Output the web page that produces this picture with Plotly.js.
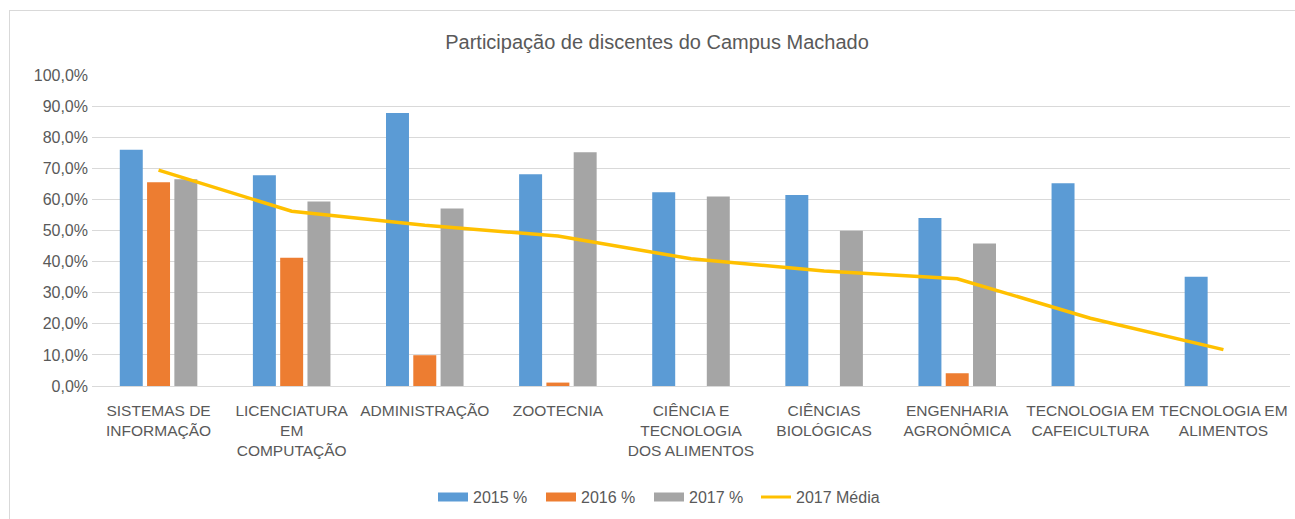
<!DOCTYPE html>
<html>
<head>
<meta charset="utf-8">
<script src="https://cdn.plot.ly/plotly-3.0.1.min.js"></script>
<style>
  html, body { margin: 0; padding: 0; background: #fff; overflow: hidden; }
  #frame { position: absolute; left: 9px; top: 10px; width: 1310px; height: 530px; border: 1px solid #d9d9d9; box-sizing: border-box; }
  #chart { position: absolute; left: 0; top: 0; width: 1295px; height: 519px; }
</style>
</head>
<body>
<div id="frame"></div>
<div id="chart"></div>
<script>
const categories = [
  "SISTEMAS DE<br>INFORMAÇÃO",
  "LICENCIATURA<br>EM<br>COMPUTAÇÃO",
  "ADMINISTRAÇÃO",
  "ZOOTECNIA",
  "CIÊNCIA E<br>TECNOLOGIA<br>DOS ALIMENTOS",
  "CIÊNCIAS<br>BIOLÓGICAS",
  "ENGENHARIA<br>AGRONÔMICA",
  "TECNOLOGIA EM<br>CAFEICULTURA",
  "TECNOLOGIA EM<br>ALIMENTOS"
];
const seriesNames = ['2015 %', '2016 %', '2017 %', '2017 Média'];
const values2015 = [76.0, 67.8, 87.8, 68.1, 62.3, 61.4, 54.0, 65.2, 35.1];
const values2016 = [65.5, 41.2, 9.9, 1.1, null, null, 4.1, null, null];
const values2017 = [66.5, 59.3, 57.1, 75.2, 60.9, 49.9, 45.8, null, null];
const media2017 = [69.4, 56.2, 51.7, 48.2, 40.9, 37.0, 34.5, 21.8, 11.7];

const colors = ['#5B9BD5', '#ED7D31', '#A5A5A5', '#FFC000'];
const FONT = '"Liberation Sans", Arial, sans-serif';
const GREY = '#595959';

const traces = [
  { type: 'bar', name: seriesNames[0], x: categories, y: values2015, marker: { color: colors[0] } },
  { type: 'bar', name: seriesNames[1], x: categories, y: values2016, marker: { color: colors[1] } },
  { type: 'bar', name: seriesNames[2], x: categories, y: values2017, marker: { color: colors[2] } },
  { type: 'scatter', mode: 'lines', name: seriesNames[3], x: categories, y: media2017,
    line: { color: colors[3], width: 3.5 } }
];

// Custom legend (wide swatches like the original), placed in pixel space
const W = 1295, H = 519, L = 92, R = 5, T = 75, B = 133;
const pw = W - L - R, ph = H - T - B;
const px = v => (v - L) / pw;
const py = v => (H - B - v) / ph;
const legendY = 497;
const legendStarts = [438, 546, 654, 761];
const shapes = [];
const annotations = [];
seriesNames.forEach((name, i) => {
  const x0 = legendStarts[i], x1 = x0 + 30;
  if (i < 3) {
    shapes.push({ type: 'rect', xref: 'paper', yref: 'paper',
      x0: px(x0), x1: px(x1), y0: py(legendY + 4.5), y1: py(legendY - 4.5),
      fillcolor: colors[i], line: { width: 0 } });
  } else {
    shapes.push({ type: 'line', xref: 'paper', yref: 'paper',
      x0: px(x0), x1: px(x1), y0: py(legendY), y1: py(legendY),
      line: { color: colors[i], width: 3 } });
  }
  annotations.push({ xref: 'paper', yref: 'paper', x: px(x1 + 3), y: py(legendY),
    xanchor: 'left', yanchor: 'middle', showarrow: false, text: name,
    font: { family: FONT, size: 16, color: GREY } });
});

const layout = {
  width: W, height: H,
  margin: { l: L, r: R, t: T, b: B },
  paper_bgcolor: 'rgba(0,0,0,0)',
  plot_bgcolor: 'rgba(0,0,0,0)',
  font: { family: FONT, color: GREY, size: 16 },
  separators: ',.',
  title: {
    text: 'Participação de discentes do Campus Machado',
    font: { family: FONT, size: 20, color: GREY },
    x: 657 / W, xref: 'container', xanchor: 'center',
    y: 1 - 42 / H, yref: 'container', yanchor: 'middle'
  },
  barmode: 'group',
  bargap: 0.385,
  bargroupgap: 0.158,
  xaxis: {
    type: 'category',
    tickangle: 0,
    tickfont: { family: FONT, size: 15.5, color: GREY },
    showgrid: false,
    showline: false,
    ticks: '',
    ticklabelstandoff: 13,
    automargin: false,
    fixedrange: true
  },
  yaxis: {
    range: [0, 100],
    dtick: 10,
    tickformat: '.1f',
    ticksuffix: '%',
    tickfont: { family: FONT, size: 16, color: GREY },
    gridcolor: '#d9d9d9',
    gridwidth: 1,
    zeroline: true,
    zerolinecolor: '#d9d9d9',
    zerolinewidth: 1,
    showline: false,
    ticks: '',
    ticklabelstandoff: 3,
    automargin: false,
    fixedrange: true
  },
  showlegend: false,
  shapes: shapes,
  annotations: annotations
};

Plotly.newPlot('chart', traces, layout, { displayModeBar: false, staticPlot: true });
</script>
</body>
</html>
